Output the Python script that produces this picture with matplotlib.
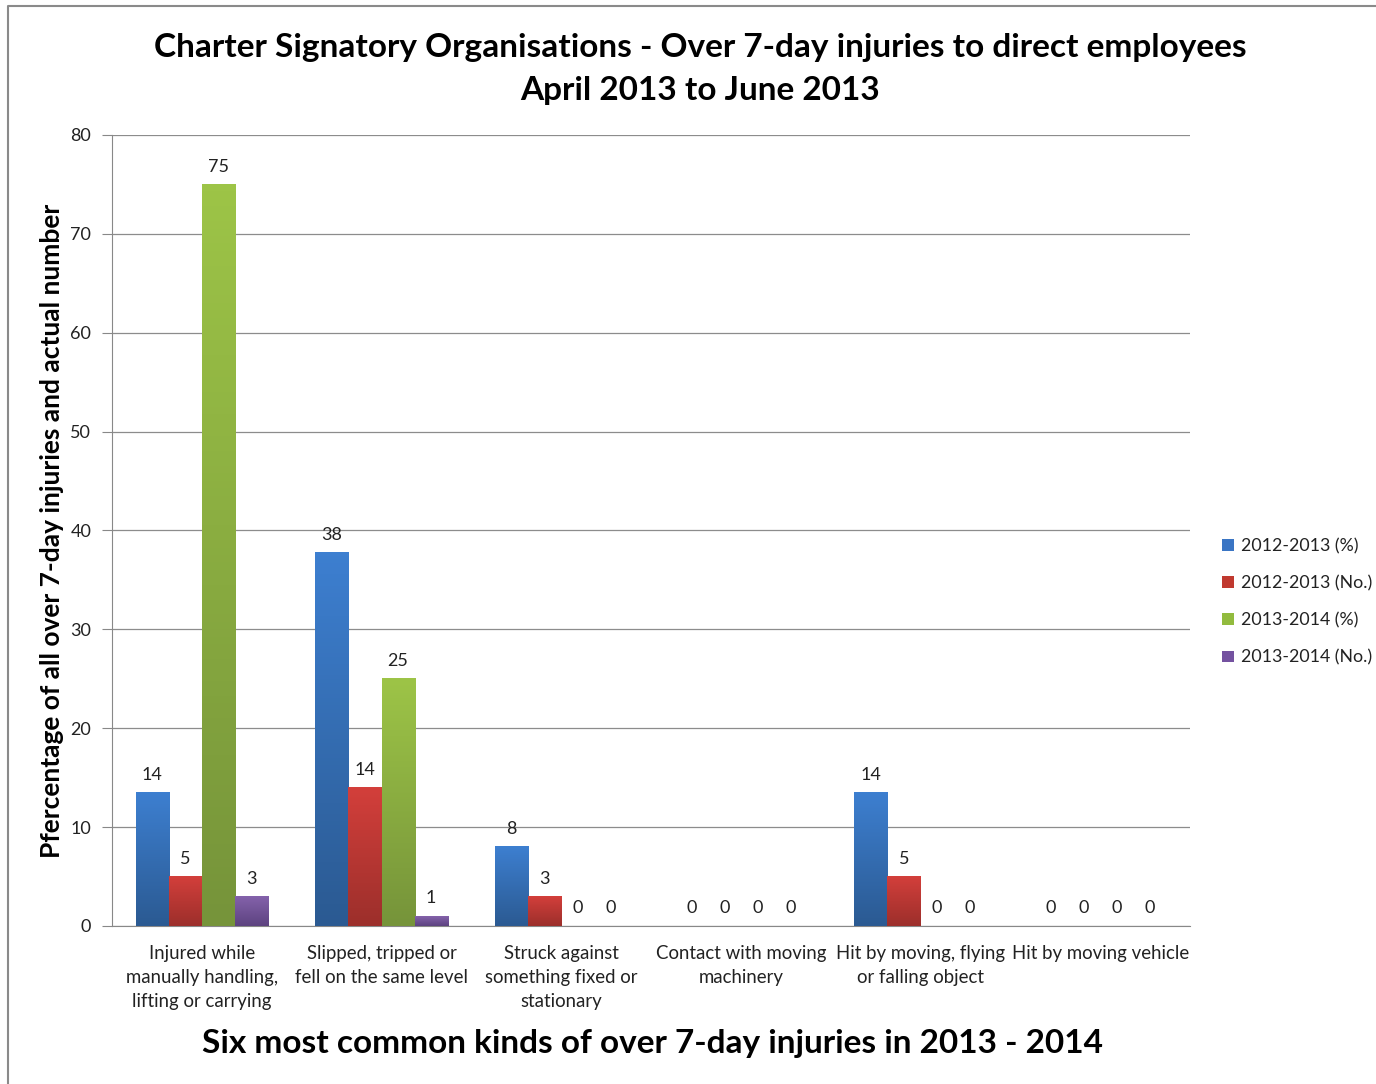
import numpy as np
import matplotlib
matplotlib.use("Agg")
import matplotlib.pyplot as plt
from matplotlib.colors import LinearSegmentedColormap
from matplotlib.lines import Line2D
from matplotlib.patches import Patch

plt.rcParams['font.family'] = ['Lato', 'DejaVu Sans']

categories = [
	"Injured while\nmanually handling,\nlifting or carrying",
	"Slipped, tripped or\nfell on the same level",
	"Struck against\nsomething fixed or\nstationary",
	"Contact with moving\nmachinery",
	"Hit by moving, flying\nor falling object",
	"Hit by moving vehicle",
]
series_names = ["2012-2013 (%)", "2012-2013 (No.)", "2013-2014 (%)", "2013-2014 (No.)"]
pct_1213 = [13.5, 37.8, 8, 0, 13.5, 0]
num_1213 = [5, 14, 3, 0, 5, 0]
pct_1314 = [75, 25, 0, 0, 0, 0]
num_1314 = [3, 1, 0, 0, 0, 0]
# labels shown for each bar (Excel rounds the values)
lab_1213p = ["14", "38", "8", "0", "14", "0"]
lab_1213n = ["5", "14", "3", "0", "5", "0"]
lab_1314p = ["75", "25", "0", "0", "0", "0"]
lab_1314n = ["3", "1", "0", "0", "0", "0"]

all_vals = [pct_1213, num_1213, pct_1314, num_1314]
all_labs = [lab_1213p, lab_1213n, lab_1314p, lab_1314n]
# (top colour, bottom colour) for the gradient
grads = [("#3d7fd0", "#2b5a92"), ("#d33f3b", "#9c2f2b"), ("#9dc447", "#76943a"), ("#8462ab", "#5d4380")]
leg_cols = ["#3a75c4", "#c0392f", "#92bb3e", "#7452a0"]

fig = plt.figure(figsize=(13.76, 10.84), dpi=100)
ax = fig.add_axes([112/1376, 1-926/1084, (1190-112)/1376, (926-135)/1084])

x = np.arange(len(categories))
w = 0.184
for i, (vals, labs) in enumerate(zip(all_vals, all_labs)):
	pos = x + (i - 1.5) * w
	bars = ax.bar(pos, vals, w, color=grads[i][1], zorder=2)
	cmap = LinearSegmentedColormap.from_list("g%d" % i, [grads[i][1], grads[i][0]])
	for b, lab in zip(bars, labs):
		h = b.get_height()
		if h > 0:
			grad = np.linspace(0, 1, 100).reshape(-1, 1)
			ax.imshow(grad, extent=[b.get_x(), b.get_x() + w, 0, h], origin="lower",
				aspect="auto", cmap=cmap, zorder=3)
		ax.annotate(lab, (b.get_x() + w / 2, h), xytext=(0, 7), textcoords="offset points",
			ha="center", va="bottom", fontsize=13, color="#222222", zorder=4)

ax.set_xlim(-0.5, len(categories) - 0.5)
ax.set_ylim(0, 80)
ax.set_yticks(range(0, 81, 10))
ax.set_xticks(x)
ax.set_xticklabels(categories, fontsize=13.4, color="#222222", linespacing=1.5)
ax.tick_params(axis="x", length=0, pad=14)
ax.tick_params(axis="y", length=7, color="#888888", labelsize=13, labelcolor="#222222", pad=8)
ax.yaxis.grid(True, color="#8c8c8c", linewidth=0.9, zorder=0)
ax.set_axisbelow(True)
for s in ["top", "right"]:
	ax.spines[s].set_visible(False)
ax.spines["left"].set_color("#888888")
ax.spines["bottom"].set_color("#888888")

fig.text(0.509, 1-69/1084, "Charter Signatory Organisations - Over 7-day injuries to direct employees\nApril 2013 to June 2013",
	ha="center", va="center", fontsize=24, fontweight="bold", linespacing=1.62)
fig.text(52/1376, 1-531/1084, "Pfercentage of all over 7-day injuries and actual number",
	rotation=90, ha="center", va="center", fontsize=19, fontweight="bold")
fig.text(652/1376, 1-1043/1084, "Six most common kinds of over 7-day injuries in 2013 - 2014",
	ha="center", va="center", fontsize=24, fontweight="bold")

handles = [Patch(facecolor=c, edgecolor="none") for c in leg_cols]
fig.legend(handles, series_names, loc="center left", bbox_to_anchor=(1206/1376, 1-602/1084),
	frameon=False, fontsize=12.8, handlelength=0.65, handleheight=0.65, handletextpad=0.4,
	labelspacing=1.18, labelcolor="#222222")

# outer chart frame
fig.add_artist(Line2D([8/1376, 8/1376, 1.0], [0, 1-6/1084, 1-6/1084], transform=fig.transFigure,
	color="#8a8a8a", linewidth=1.5))

fig.savefig("out.png", dpi=100)
